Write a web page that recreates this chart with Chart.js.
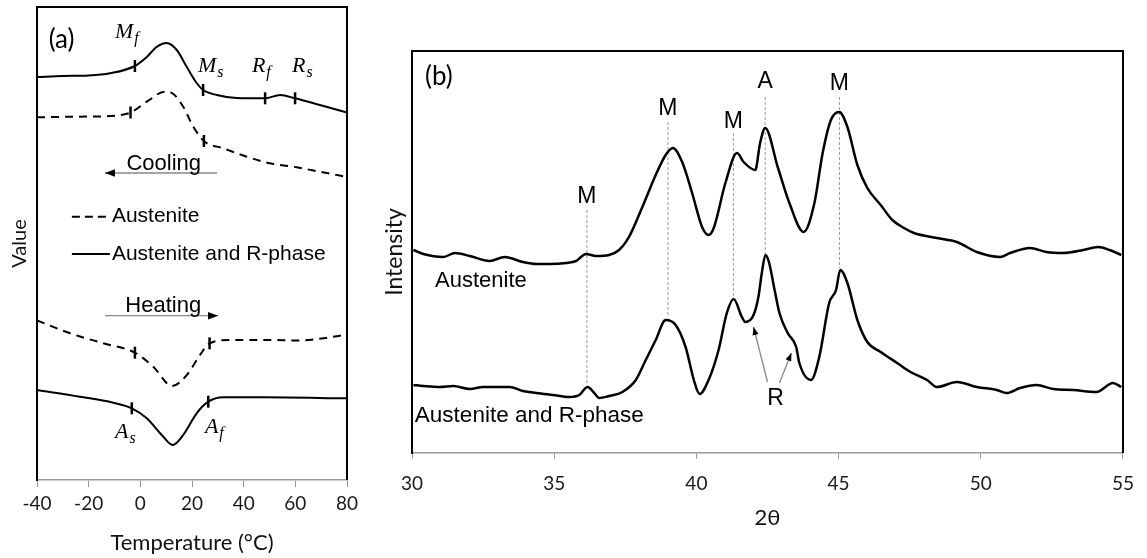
<!DOCTYPE html>
<html>
<head>
<meta charset="utf-8">
<script src="https://cdn.jsdelivr.net/npm/chart.js@4"></script>
<style>
  body { margin: 0; background: #fff; }
  #wrap { position: relative; width: 1147px; height: 558px; }
  #wrap canvas { position: absolute; top: 0; }
</style>
</head>
<body>
<div id="wrap">
  <canvas id="dsc" width="365" height="558" style="left:0"></canvas>
  <canvas id="xrd" width="782" height="558" style="left:365px"></canvas>
</div>
<script>
// ---- (a) DSC curves: temperature (°C) vs value (arb. units) ----
const coolSolidT = [-40, -30, -20, -11.7, -2.1, 2.5, 6.3, 10.2, 14.1, 18.0, 21.8, 24.3, 29.6, 37.3, 48.3, 54.1, 59.9, 69.5, 80]
const coolSolidV = [403, 404, 404.5, 406.7, 414, 423, 433, 437, 430, 413, 397, 390, 385, 382, 381.7, 385, 381.7, 375, 367.5]
const coolSolidTicks = [-2.1, 24.3, 48.3, 59.9]

const coolDashT = [-40, -25, -11.7, -3.8, 2.5, 9.5, 12.8, 16.6, 20.5, 24.6, 32.1, 41.2, 50.2, 60.5, 70, 80]
const coolDashV = [362.7, 363.3, 364, 367.5, 378.3, 388.3, 386, 373.3, 353.3, 339, 331.7, 323.3, 316.7, 312.7, 308, 303]
const coolDashTicks = [-3.8, 24.6]

const heatDashT = [-40, -27.2, -14.3, -2.1, 5.0, 12.3, 18.0, 23.1, 26.8, 34.7, 50, 61, 70, 80]
const heatDashV = [159.5, 146.7, 136.7, 127.3, 113.3, 94, 105, 125, 136.7, 140, 140, 139.5, 141.5, 145.5]
const heatDashTicks = [-2.1, 26.8]

const heatSolidT = [-40, -23.4, -10.5, -3.3, 2.5, 8.3, 12.5, 16.6, 21.8, 26.3, 32.1, 47.6, 80]
const heatSolidV = [90, 83.3, 77.3, 71.7, 61.7, 45, 35, 45, 66.7, 78.3, 82.7, 82.7, 81.7]
const heatSolidTicks = [-3.3, 26.3]

// ---- (b) XRD patterns: 2θ vs intensity (arb. units) ----
const austAngle = [30.05, 30.40, 31.10, 31.51, 32.03, 32.73, 33.26, 33.90, 34.37, 34.83, 35.42, 35.77, 36.12, 36.47, 36.93, 37.28, 37.63, 38.10, 38.57, 38.92, 39.17, 39.50, 39.85, 40.20, 40.43, 40.61, 41.02, 41.43, 41.66, 42.07, 42.24, 42.42, 42.86, 43.27, 43.77, 44.15, 44.44, 44.73, 45.02, 45.31, 45.66, 46.01, 46.48, 46.89, 47.30, 47.65, 48.46, 49.16, 49.86, 50.68, 51.03, 51.73, 52.31, 52.90, 53.60, 54.12, 54.53, 54.94]
const austInt = [203, 199, 196, 200, 197, 192, 196, 191, 189, 189, 190, 192, 199, 197, 198, 203, 216, 246, 278, 298, 305, 291, 260, 226, 218, 225, 270, 300, 291, 283, 310, 325, 286, 250, 221, 250, 300, 333, 341, 326, 288, 265, 248, 233, 225, 220, 215, 211, 201, 196, 200, 205, 201, 200, 203, 206, 203, 198]

const arAngle = [30.05, 30.40, 30.98, 31.45, 32.03, 32.50, 32.97, 33.43, 33.90, 34.37, 34.95, 35.53, 35.88, 36.17, 36.41, 36.58, 36.93, 37.40, 37.87, 38.22, 38.57, 38.92, 39.27, 39.62, 39.91, 40.11, 40.43, 40.78, 41.07, 41.31, 41.60, 41.72, 42.01, 42.18, 42.30, 42.43, 42.55, 42.75, 42.92, 43.21, 43.51, 43.62, 44.03, 44.32, 44.67, 44.91, 45.06, 45.31, 45.66, 46.01, 46.48, 47.06, 47.53, 48.11, 48.46, 49.16, 49.86, 50.56, 50.91, 51.38, 51.96, 52.55, 53.25, 54.07, 54.65, 54.94]
const arInt = [68, 67, 66, 67, 64, 66, 66, 66, 62, 60, 58, 56, 58, 66, 60, 55, 57, 61, 73, 93, 113, 133, 128, 106, 73, 59, 73, 103, 140, 154, 136, 131, 138, 156, 180, 198, 191, 163, 140, 120, 106, 90, 73, 96, 150, 163, 183, 170, 133, 111, 101, 90, 81, 73, 66, 71, 66, 63, 60, 65, 68, 64, 63, 61, 70, 66]

const dscTicks = [-40, -20, 0, 20, 40, 60, 80]
const xrdTicks = [30, 35, 40, 45, 50, 55]
const peakAngles = [36.15, 39.0, 41.3, 42.42, 45.03]
const peakNames = ['M', 'M', 'M', 'A', 'M']

Chart.defaults.font.family = 'Lato'
Chart.defaults.color = '#1a1a1a'

const pts = (xs, ys) => xs.map((x, i) => ({ x, y: ys[i] }))

// ---- annotation layout (data coordinates) ----
const mathFont = 'italic 22px "Liberation Serif"'
const mathSub = 'italic 16px "Liberation Serif"'
const sans = '22px "Liberation Sans"'

const dscTexts = [
  { text: '(a)', x: -35.5, y: 440, font: '26px Lato', base: 'middle' },
  { text: 'M', sub: 'f', x: -9.8, y: 442, font: mathFont },
  { text: 'M', sub: 's', x: 22.3, y: 408, font: mathFont },
  { text: 'R', sub: 'f', x: 43.2, y: 408, font: mathFont },
  { text: 'R', sub: 's', x: 58.7, y: 408, font: mathFont },
  { text: 'A', sub: 's', x: -9.8, y: 42, font: mathFont },
  { text: 'A', sub: 'f', x: 25.0, y: 47, font: mathFont },
  { text: 'Cooling', x: -5.4, y: 310, font: sans },
  { text: 'Heating', x: -5.8, y: 168.3, font: sans },
  { text: 'Austenite', x: -11.0, y: 263.3, font: '21px "Liberation Sans"', base: 'middle' },
  { text: 'Austenite and R-phase', x: -11.0, y: 226, font: '21px "Liberation Sans"', base: 'middle' }
]
const dscLines = [
  { x1: -26.5, y1: 263.3, x2: -11.8, y2: 263.3, dash: [8, 5] },
  { x1: -26.5, y1: 226, x2: -11.8, y2: 226 }
]
const dscArrows = [
  { x1: 29.7, y1: 307, x2: -13.7, y2: 307, head: 10 },
  { x1: -13.7, y1: 164.3, x2: 30.1, y2: 164.3, head: 10 }
]

const labelBase = [250, 338, 325, 365, 363]
const lineTop = [243, 331, 320, 356, 356]
const lineBottom = [70, 138, 153, 198, 185]

const xrdTexts = [
  { text: '(b)', x: 30.46, y: 376, font: '26px Lato', base: 'middle' },
  ...peakAngles.map((a, i) => ({ text: peakNames[i], x: a, y: labelBase[i], font: '23px "Liberation Sans"', align: 'center' })),
  { text: 'R', x: 42.78, y: 48, font: '23px "Liberation Sans"', align: 'center' },
  { text: 'Austenite', x: 30.81, y: 166, font: '22px "Liberation Sans"' },
  { text: 'Austenite and R-phase', x: 30.1, y: 31, font: '22.5px "Liberation Sans"' }
]
const xrdArrows = [
  { x1: 42.50, y1: 71, x2: 42.01, y2: 126, head: 8 },
  { x1: 42.92, y1: 70, x2: 43.34, y2: 100, head: 8 }
]

function drawArrow(ctx, x1, y1, x2, y2, head) {
  ctx.strokeStyle = '#888'
  ctx.lineWidth = 1.3
  ctx.setLineDash([])
  ctx.beginPath(); ctx.moveTo(x1, y1); ctx.lineTo(x2, y2); ctx.stroke()
  const a = Math.atan2(y2 - y1, x2 - x1)
  const w = head * 0.38
  ctx.fillStyle = '#000'
  ctx.beginPath()
  ctx.moveTo(x2, y2)
  ctx.lineTo(x2 - head * Math.cos(a) + w * Math.sin(a), y2 - head * Math.sin(a) - w * Math.cos(a))
  ctx.lineTo(x2 - head * Math.cos(a) - w * Math.sin(a), y2 - head * Math.sin(a) + w * Math.cos(a))
  ctx.closePath(); ctx.fill()
}

function notes(texts, lines, arrows) {
  return {
    id: 'notes',
    afterDraw(chart) {
      const { ctx, chartArea: a, scales: { x, y } } = chart
      ctx.save()
      ctx.strokeStyle = '#000'
      ctx.lineWidth = 2
      ctx.beginPath()
      ctx.moveTo(a.left, a.top); ctx.lineTo(a.right, a.top); ctx.lineTo(a.right, a.bottom)
      ctx.stroke()

      lines.forEach(l => {
        ctx.strokeStyle = '#000'
        ctx.lineWidth = 2
        ctx.setLineDash(l.dash || [])
        ctx.beginPath()
        ctx.moveTo(x.getPixelForValue(l.x1), y.getPixelForValue(l.y1))
        ctx.lineTo(x.getPixelForValue(l.x2), y.getPixelForValue(l.y2))
        ctx.stroke()
      })
      ctx.setLineDash([])
      arrows.forEach(r => drawArrow(ctx, x.getPixelForValue(r.x1), y.getPixelForValue(r.y1),
        x.getPixelForValue(r.x2), y.getPixelForValue(r.y2), r.head))

      texts.forEach(t => {
        const px = x.getPixelForValue(t.x), py = y.getPixelForValue(t.y)
        ctx.font = t.font
        ctx.fillStyle = '#000'
        ctx.textAlign = t.align || 'left'
        ctx.textBaseline = t.base || 'alphabetic'
        ctx.fillText(t.text, px, py)
        if (t.sub) {
          const w = ctx.measureText(t.text).width
          ctx.font = mathSub
          ctx.textAlign = 'left'
          ctx.fillText(t.sub, px + w + 1, py + 5)
        }
      })
      ctx.restore()
    }
  }
}

function curve(xs, ys, ticks, dashed) {
  return {
    data: pts(xs, ys),
    borderColor: '#000',
    borderWidth: 2,
    borderDash: dashed ? [8, 6] : [],
    cubicInterpolationMode: 'monotone',
    pointStyle: 'line',
    rotation: 90,
    pointRadius: c => (ticks.includes(c.raw.x) ? 6 : 0),
    pointBorderColor: '#000',
    pointBorderWidth: 2.5,
    fill: false
  }
}

new Chart(document.getElementById('dsc'), {
  type: 'line',
  data: {
    datasets: [
      curve(coolSolidT, coolSolidV, coolSolidTicks, false),
      curve(coolDashT, coolDashV, coolDashTicks, true),
      curve(heatDashT, heatDashV, heatDashTicks, true),
      curve(heatSolidT, heatSolidV, heatSolidTicks, false)
    ]
  },
  options: {
    responsive: false,
    animation: false,
    devicePixelRatio: 1,
    layout: { padding: { top: 7, right: 18, left: 0, bottom: 0 } },
    plugins: { legend: { display: false }, tooltip: { enabled: false } },
    scales: {
      x: {
        type: 'linear', min: -40, max: 80,
        afterBuildTicks: s => { s.ticks = dscTicks.map(v => ({ value: v })) },
        ticks: { font: { size: 19 }, padding: 5, color: '#1a1a1a' },
        grid: { drawOnChartArea: false, tickLength: 7, color: '#999' },
        border: { color: '#999', width: 1.5 },
        title: { display: true, text: 'Temperature (°C)', font: { size: 22 }, padding: { top: 0, bottom: 2 }, color: '#111' },
        afterFit: s => { s.height = 78 }
      },
      y: {
        min: 0, max: 473,
        ticks: { display: false },
        grid: { display: false },
        border: { color: '#000', width: 2 },
        title: { display: true, text: 'Value', font: { size: 20 }, padding: { top: 8, bottom: 0 }, color: '#111' },
        afterFit: s => { s.width = 37 }
      }
    }
  },
  plugins: [notes(dscTexts, dscLines, dscArrows)]
})

function pattern(xs, ys) {
  return {
    data: pts(xs, ys),
    borderColor: '#000',
    borderWidth: 2.5,
    borderJoinStyle: 'round',
    cubicInterpolationMode: 'monotone',
    pointRadius: 0,
    fill: false
  }
}

const guides = peakAngles.map((a, i) => ({
  data: [{ x: a, y: lineTop[i] }, { x: a, y: lineBottom[i] }],
  borderColor: '#9a9a9a',
  borderWidth: 1,
  borderDash: [3, 2],
  pointRadius: 0,
  fill: false
}))

new Chart(document.getElementById('xrd'), {
  type: 'line',
  data: {
    datasets: [pattern(austAngle, austInt), pattern(arAngle, arInt), ...guides]
  },
  options: {
    responsive: false,
    animation: false,
    devicePixelRatio: 1,
    layout: { padding: { top: 51, right: 21, left: 0, bottom: 0 } },
    plugins: { legend: { display: false }, tooltip: { enabled: false } },
    scales: {
      x: {
        type: 'linear', min: 30, max: 55,
        afterBuildTicks: s => { s.ticks = xrdTicks.map(v => ({ value: v })) },
        ticks: { font: { size: 19 }, padding: 13, color: '#1a1a1a' },
        grid: { drawOnChartArea: false, tickLength: 6, color: '#999' },
        border: { color: '#999', width: 1.5 },
        title: { display: true, text: '2θ', font: { size: 22 }, padding: { top: 0, bottom: 27 }, color: '#111' },
        afterFit: s => { s.height = 105 }
      },
      y: {
        min: 0, max: 402,
        ticks: { display: false },
        grid: { display: false },
        border: { color: '#000', width: 2 },
        title: { display: true, text: 'Intensity', font: { size: 23 }, padding: { top: 16, bottom: 0 }, color: '#111' },
        afterFit: s => { s.width = 47 }
      }
    }
  },
  plugins: [notes(xrdTexts, [], xrdArrows)]
})
</script>
</body>
</html>
